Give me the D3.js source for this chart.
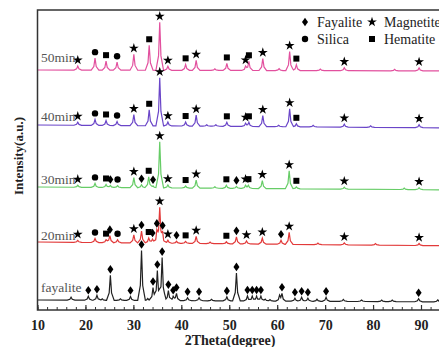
<!DOCTYPE html>
<html>
<head>
<meta charset="utf-8">
<script src="https://cdnjs.cloudflare.com/ajax/libs/d3/7.8.5/d3.min.js"></script>
<style>
  body { margin: 0; background: #fff; }
  svg { display: block; font-family: "Liberation Serif", "Times New Roman", serif; }
</style>
</head>
<body>
<div id="chart"></div>
<script>
// peak lists: [2theta, height above background, phase marker]
// D = fayalite, S = magnetite, C = silica, Q = hematite
const fayalitePeaks = [
  [17.0, 3], [20.6, 4, 'D'], [22.4, 5, 'D'], [23.5, 1.5], [25.2, 25, 'D'], [27.3, 1.5],
  [29.4, 4, 'D'], [31.7, 50, 'D'], [33.0, 2], [34.1, 13, 'D'], [35.0, 30, 'D'], [36.0, 43, 'D'],
  [37.3, 10, 'D'], [38.3, 4, 'D'], [39.0, 7, 'D'], [41.3, 3, 'D'], [43.7, 3, 'D'], [46.3, 1.5],
  [49.5, 4, 'D'], [51.5, 28, 'D'], [53.8, 5, 'D'], [54.8, 5, 'D'], [55.7, 5, 'D'], [56.6, 5, 'D'],
  [57.5, 2], [58.5, 1.5], [60.5, 5], [61.0, 7, 'D'], [63.7, 3, 'D'], [65.1, 4, 'D'], [66.4, 3, 'D'],
  [68.3, 2], [70.2, 4, 'D'], [73.8, 2], [77.6, 1.5], [81.8, 1.5], [84.0, 1.5], [89.5, 3, 'D'], [93.5, 2]
];
const min20Peaks = [
  [18.4, 2, 'S'], [22.0, 4, 'C'], [24.3, 3, 'Q'], [25.1, 7, 'D'], [26.7, 3, 'C'], [30.1, 8, 'S'],
  [31.7, 12, 'D'], [33.2, 5, 'Q'], [34.0, 4, 'D'], [34.9, 10, 'D'], [35.5, 34, 'S'], [36.1, 8, 'D'],
  [37.2, 3, 'S'], [39.0, 2, 'D'], [40.9, 2, 'Q'], [43.1, 7, 'S'], [46.0, 1.5], [49.4, 2, 'Q'],
  [51.5, 7, 'D'], [53.6, 3, 'S'], [56.9, 6, 'S'], [60.8, 4, 'D'], [62.5, 12, 'S'], [68.5, 1.5],
  [74.0, 2, 'S'], [80.5, 1.5], [89.6, 2, 'S']
];
const min30Peaks = [
  [18.4, 2, 'S'], [22.0, 4, 'C'], [24.3, 3, 'Q'], [25.2, 2, 'D'], [26.7, 2, 'C'], [30.1, 10, 'S'],
  [31.7, 3, 'D'], [33.2, 11, 'Q'], [34.1, 2, 'D'], [35.5, 46, 'S'], [37.2, 3, 'S'], [40.9, 2, 'Q'],
  [43.1, 8, 'S'], [47.0, 1.5], [49.4, 3, 'Q'], [51.5, 2, 'D'], [53.4, 3, 'S'], [54.0, 3, 'Q'],
  [56.9, 8, 'S'], [62.5, 18, 'S'], [64.0, 2, 'Q'], [74.0, 2, 'S'], [86.5, 1.5], [89.6, 2, 'S']
];
const min40Peaks = [
  [18.4, 3, 'S'], [22.0, 6, 'C'], [24.3, 5, 'Q'], [26.6, 4, 'C'], [30.1, 11, 'S'], [33.3, 16, 'Q'],
  [35.5, 48, 'S'], [37.2, 4, 'S'], [40.9, 4, 'Q'], [43.1, 11, 'S'], [45.3, 1.5], [47.2, 1.5],
  [49.5, 4, 'Q'], [53.4, 3, 'S'], [54.1, 4, 'Q'], [57.0, 11, 'S'], [60.3, 1.5], [62.6, 18, 'S'],
  [64.0, 3, 'Q'], [67.5, 1.5], [74.0, 3, 'S'], [79.5, 1.5], [89.6, 3, 'S']
];
const min50Peaks = [
  [18.4, 4, 'S'], [22.0, 12, 'C'], [24.3, 9, 'Q'], [26.6, 8, 'C'], [30.1, 16, 'S'], [33.3, 25, 'Q'],
  [35.5, 48, 'S'], [37.2, 4, 'S'], [40.9, 6, 'Q'], [43.1, 10, 'S'], [47.0, 1.5], [49.5, 7, 'Q'],
  [53.4, 4, 'S'], [54.1, 9, 'Q'], [57.0, 12, 'S'], [60.4, 2], [62.6, 19, 'S'], [64.0, 6, 'Q'],
  [69.0, 1.5], [74.0, 3, 'S'], [84.5, 1.5], [89.6, 3, 'S']
];

const seriesNames = ['fayalite', '20min', '30min', '40min', '50min'];
const seriesPeaks = [fayalitePeaks, min20Peaks, min30Peaks, min40Peaks, min50Peaks];
// background level (a.u.) at 10 deg and at 100 deg
const seriesBase = [[10, 8], [68, 64], [123, 120], [185, 182], [240, 239]];
const seriesColors = ['#222222', '#e23a3a', '#66cc66', '#6a45c8', '#e2509e'];

const xTicks = [10, 20, 30, 40, 50, 60, 70, 80, 90];
const legendItems = [['D', 'Fayalite'], ['S', 'Magnetite'], ['C', 'Silica'], ['Q', 'Hematite']];

const width = 439, height = 347;
const x = d3.scaleLinear().domain([10, 90]).range([37.5, 421]);
const y = d3.scaleLinear().domain([0, 300]).range([310, 10]);

const svg = d3.select('#chart').append('svg')
  .attr('width', width).attr('height', height);

// symbols
function marker(g, type, cx, cy) {
  if (type === 'S') {
    g.append('path').attr('d', d3.symbol(d3.symbolStar, 30)())
      .attr('transform', `translate(${cx},${cy})`).attr('fill', '#000');
  } else if (type === 'C') {
    g.append('circle').attr('cx', cx).attr('cy', cy).attr('r', 3.2).attr('fill', '#000');
  } else if (type === 'Q') {
    g.append('rect').attr('x', cx - 3).attr('y', cy - 3).attr('width', 6).attr('height', 6).attr('fill', '#000');
  } else {
    g.append('path').attr('d', `M${cx},${cy - 4.3}L${cx + 3},${cy}L${cx},${cy + 4.3}L${cx - 3},${cy}Z`)
      .attr('fill', '#000');
  }
}

function profile(peaks, base) {
  const pts = new Set([10, 100]);
  peaks.forEach(p => [-0.8, -0.25, 0, 0.25, 0.8].forEach(d => pts.add(+(p[0] + d).toFixed(2))));
  const xs = Array.from(pts).sort((a, b) => a - b);
  return xs.map(t => {
    let v = base[0] + (base[1] - base[0]) * (t - 10) / 90;
    peaks.forEach(([c, h]) => {
      const d = Math.abs(t - c);
      if (d <= 0.25) v += h * (1 - 0.7 * d / 0.25);
      else if (d < 0.8) v += h * 0.3 * (0.8 - d) / 0.55;
    });
    return [t, v];
  });
}

const line = d3.line().x(d => x(d[0])).y(d => y(d[1]));

const plot = svg.append('g');
seriesPeaks.forEach((peaks, i) => {
  const data = profile(peaks, seriesBase[i]);
  plot.append('path').datum(data)
    .attr('d', line).attr('fill', 'none')
    .attr('stroke', seriesColors[i]).attr('stroke-width', 1.2);
});

const marks = svg.append('g');
seriesPeaks.forEach((peaks, i) => {
  const data = profile(peaks, seriesBase[i]);
  const lookup = new Map(data.map(d => [d[0], d[1]]));
  peaks.filter(p => p[2]).forEach(p => {
    const top = lookup.get(+p[0].toFixed(2));
    marker(marks, p[2], x(p[0]), y(top) - 6);
  });
});

// series labels
const labelY = [292, 240, 184, 121, 62];
seriesNames.forEach((n, i) => {
  svg.append('text').attr('x', 41).attr('y', labelY[i])
    .attr('font-size', 13.5).attr('fill', '#555').text(n);
});

// frame
svg.append('rect').attr('x', x(10)).attr('y', y(300))
  .attr('width', x(100) - x(10)).attr('height', y(0) - y(300))
  .attr('fill', 'none').attr('stroke', '#333').attr('stroke-width', 1.5);

// x axis
const minor = d3.range(10, 101, 2);
svg.append('g').attr('transform', `translate(0,${y(0)})`)
  .call(d3.axisBottom(x).tickValues(minor).tickSize(-3).tickFormat(''))
  .call(g => g.select('.domain').remove())
  .call(g => g.selectAll('line').attr('stroke', '#333'));
svg.append('g').attr('transform', `translate(0,${y(0)})`)
  .call(d3.axisBottom(x).tickValues(xTicks).tickSize(-5).tickPadding(10))
  .call(g => g.select('.domain').remove())
  .call(g => g.selectAll('line').attr('stroke', '#333').attr('stroke-width', 1.2))
  .call(g => g.selectAll('text').attr('font-family', '"Liberation Serif", serif')
    .attr('font-size', 14).attr('font-weight', 'bold').attr('fill', '#222'));

svg.append('text').attr('x', 230).attr('y', 345).attr('text-anchor', 'middle')
  .attr('font-size', 14).attr('font-weight', 'bold').attr('fill', '#222').text('2Theta(degree)');
svg.append('text').attr('transform', 'translate(23,156) rotate(-90)').attr('text-anchor', 'middle')
  .attr('font-size', 13).attr('font-weight', 'bold').attr('fill', '#222').text('Intensity(a.u.)');

// legend
const legend = svg.append('g');
legendItems.forEach(([t, name], i) => {
  const lx = i % 2 === 0 ? 305 : 372;
  const ly = i < 2 ? 22 : 39;
  marker(legend, t, lx, ly);
  legend.append('text').attr('x', lx + 12).attr('y', ly + 5)
    .attr('font-size', 14).attr('fill', '#222').text(name);
});
</script>
</body>
</html>
